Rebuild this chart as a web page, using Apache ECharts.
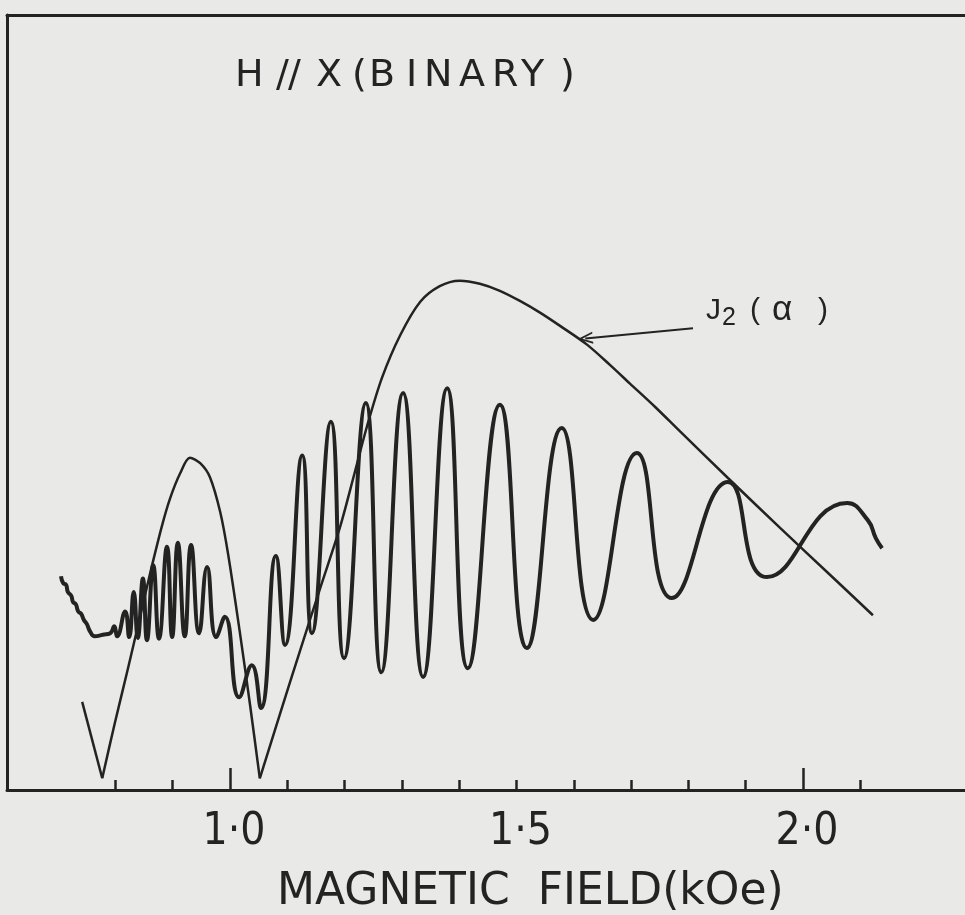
<!DOCTYPE html>
<html>
<head>
<meta charset="utf-8">
<script src="https://cdn.jsdelivr.net/npm/echarts@6/dist/echarts.min.js"></script>
<style>
html,body{margin:0;padding:0;background:#e9e9e7;}
#c{width:965px;height:915px;}
</style>
</head>
<body>
<div id="c"></div>
<script>
// ---- data (x: magnetic field in kOe, y: amplitude in arbitrary units) ----
const signalField = [0.705,0.709,0.714,0.717,0.723,0.726,0.731,0.735,0.740,0.745,0.750,0.756,0.764,0.778,0.791,0.798,0.803,0.817,0.824,0.832,0.839,0.848,0.855,0.866,0.876,0.890,0.899,0.909,0.921,0.932,0.946,0.960,0.976,0.991,1.016,1.038,1.054,1.080,1.096,1.126,1.143,1.176,1.199,1.237,1.264,1.302,1.337,1.379,1.415,1.471,1.518,1.579,1.634,1.710,1.771,1.869,1.937,2.077,2.113,2.127,2.138];
const signalAmp   = [27.4,26.5,26.3,25.4,24.9,24.1,23.8,22.9,22.6,21.8,21.3,20.3,19.7,19.9,20.1,21.0,19.7,22.9,19.6,25.4,19.5,27.1,19.2,28.8,19.4,31.2,19.6,31.7,19.7,31.4,20.1,28.6,19.6,22.2,11.9,16.0,10.5,30.0,18.6,42.9,20.1,47.2,16.9,49.6,15.1,50.9,14.5,51.5,15.6,49.4,18.2,46.4,21.8,43.2,24.6,39.5,27.3,36.8,34.6,32.3,31.0];

const j2Field = [0.742,0.777,0.799,0.822,0.843,0.860,0.881,0.895,0.913,0.930,0.948,0.965,0.983,0.997,1.017,1.035,1.052,1.087,1.122,1.157,1.192,1.218,1.239,1.265,1.297,1.332,1.366,1.401,1.436,1.471,1.506,1.541,1.576,1.623,1.663,1.698,1.742,1.785,1.869,1.960,2.047,2.122];
const j2Amp   = [11.3,1.5,8.6,15.6,22.2,27.6,33.8,37.3,40.6,42.6,41.9,40.1,35.6,30.1,20.3,10.9,1.5,9.7,17.8,25.8,33.7,40.8,46.6,52.8,58.3,62.6,64.6,65.3,64.9,64.0,62.7,61.2,59.5,57.1,54.5,52.1,49.1,46.0,40.0,33.6,27.6,22.4];

const minorTicks = [0.8,0.9,1.1,1.2,1.3,1.4,1.5,1.6,1.7,1.8,1.9,2.1];
const majorTicks = [1.0,2.0];
const tickLabels = [1.0,1.5,2.0];

const arrowFrom = [1.808, 59.2];
const arrowTo   = [1.620, 57.9];

const titleText = 'H // X(BINARY )';
const curveLabel = 'J2(α)';
const axisTitle = 'MAGNETIC  FIELD(kOe)';

// ---- layout / style ----
const INK = '#232323';
const X_MIN = 0.6108, X_MAX = 2.2827, Y_MAX = 99.36;
const NARROW = "'Liberation Sans Narrow','DejaVu Sans Condensed','Liberation Sans',sans-serif";
const LETTER = "'DejaVu Sans',sans-serif";

// split J2 curve at its zeros (local minima) so the V-shaped zeros stay sharp
const j2Pts = j2Field.map((x, i) => [x, j2Amp[i]]);
const j2Segments = [];
let start = 0;
for (let i = 1; i < j2Pts.length - 1; i++) {
  if (j2Amp[i] < j2Amp[i-1] && j2Amp[i] < j2Amp[i+1]) {
    j2Segments.push(j2Pts.slice(start, i + 1));
    start = i;
  }
}
j2Segments.push(j2Pts.slice(start));

// per-character cells to reproduce hand-lettering spacing
function cells(chars, widths, base, extra) {
  const rich = {};
  let text = '';
  chars.forEach((ch, i) => {
    rich['c' + i] = Object.assign({ width: widths[i], align: 'left', fontWeight: 'normal' }, base, (extra && extra[i]) || {});
    text += '{c' + i + '|' + ch + '}';
  });
  return { text, rich };
}
const tCells = cells(Array.from(titleText), [27,14,12,12,16,36,17,37,18,35,33,29,28,11,15],
  { fontFamily: LETTER, fontSize: 38, color: INK });
const jCells = cells(Array.from(curveLabel), [16,28,22,46,14],
  { fontFamily: "'Liberation Sans',sans-serif", fontSize: 30, color: INK },
  { 1: { fontSize: 25, padding: [16, 0, 0, 0] }, 3: { fontSize: 35 } });

const chart = echarts.init(document.getElementById('c'), null, { renderer: 'canvas' });

const lineSeries = [{
  type: 'line',
  name: 'signal',
  data: signalField.map((x, i) => [x, signalAmp[i]]),
  smooth: 0.5,
  symbol: 'none',
  lineStyle: { color: INK, width: 4 },
  z: 3
}];
j2Segments.forEach((seg, k) => {
  const s = {
    type: 'line',
    name: 'J2',
    data: seg,
    smooth: 0.3,
    symbol: 'none',
    lineStyle: { color: INK, width: 2.5 },
    z: 2
  };
  if (k === j2Segments.length - 1) {
    s.markLine = {
      silent: true,
      symbol: ['none', 'path://M5,0 L10,12 L8.4,12 L5,3.6 L1.6,12 L0,12 Z'],
      symbolSize: [12, 15],
      label: { show: false },
      lineStyle: { color: INK, width: 2, type: 'solid' },
      data: [[{ coord: arrowFrom }, { coord: arrowTo }]]
    };
  }
  lineSeries.push(s);
});

chart.setOption({
  animation: false,
  backgroundColor: '#e9e9e7',
  title: [
    { text: tCells.text, left: 235, top: 57, padding: 0, textStyle: { rich: tCells.rich, fontFamily: LETTER, fontSize: 38, fontWeight: 'normal', color: INK } },
    { text: jCells.text, left: 706, top: 290, padding: 0, textStyle: { rich: jCells.rich, fontSize: 30, fontWeight: 'normal', color: INK } },
    { text: axisTitle, left: 277, top: 871, padding: 0, textStyle: { fontFamily: LETTER, fontSize: 44, fontWeight: 'normal', color: INK } }
  ],
  grid: { left: 7, right: 0, top: 15, bottom: 125, containLabel: false, outerBoundsMode: 'none' },
  xAxis: [
    {
      type: 'value', min: X_MIN, max: X_MAX, position: 'bottom',
      axisLine: { show: true, onZero: false, lineStyle: { color: INK, width: 3 } },
      axisTick: { show: true, inside: true, length: 10, customValues: minorTicks, lineStyle: { color: INK, width: 2.5 } },
      axisLabel: { show: true, customValues: tickLabels, margin: 21, padding: [0, 0, 0, 8],
        formatter: v => Number(v).toFixed(1).replace('.', '·'),
        fontFamily: NARROW, fontSize: 44, color: INK },
      splitLine: { show: false }
    },
    {
      type: 'value', min: X_MIN, max: X_MAX, position: 'bottom',
      axisLine: { show: false },
      axisTick: { show: true, inside: true, length: 22, customValues: majorTicks, lineStyle: { color: INK, width: 2.5 } },
      axisLabel: { show: false },
      splitLine: { show: false }
    },
    {
      type: 'value', min: X_MIN, max: X_MAX, position: 'top',
      axisLine: { show: true, onZero: false, lineStyle: { color: INK, width: 3 } },
      axisTick: { show: false }, axisLabel: { show: false }, splitLine: { show: false }
    }
  ],
  yAxis: {
    type: 'value', min: 0, max: Y_MAX,
    axisLine: { show: true, onZero: false, lineStyle: { color: INK, width: 3 } },
    axisTick: { show: false }, axisLabel: { show: false }, splitLine: { show: false }
  },
  series: lineSeries
});
</script>
</body>
</html>
